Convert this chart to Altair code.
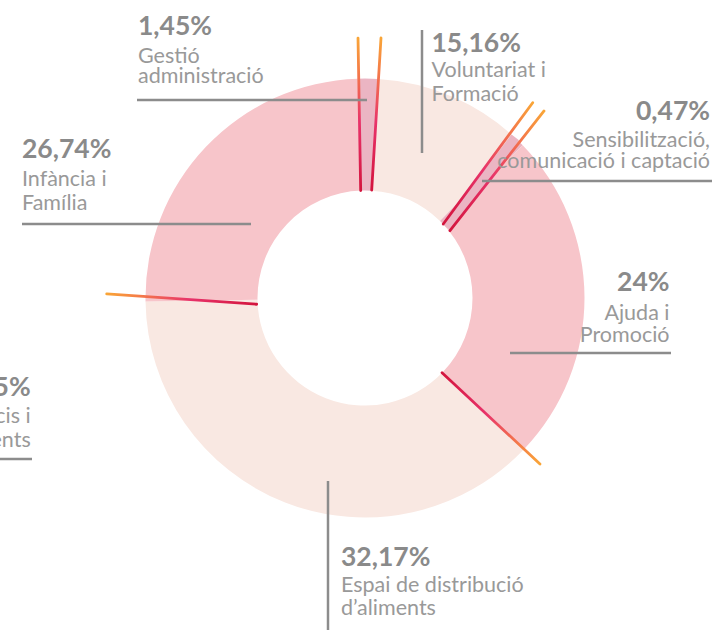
import math
import altair as alt
import pandas as pd

# ---------------- data ----------------
categories = [
    "Gestió administració",
    "Voluntariat i Formació",
    "Sensibilització, comunicació i captació",
    "Ajuda i Promoció",
    "Espai de distribució d’aliments",
    "Infància i Família",
]
printed_pct = ["1,45%", "15,16%", "0,47%", "24%", "32,17%", "26,74%"]
# arc sizes as they appear in the picture (percent of the ring)
arc_share = [1.51, 11.32, 0.47, 24.35, 37.64, 24.71]
label_line1 = ["Gestió", "Voluntariat i", "Sensibilització,", "Ajuda i", "Espai de distribució", "Infància i"]
label_line2 = ["administració", "Formació", "comunicació i captació", "Promoció", "d’aliments", "Família"]
# label that sits mostly outside the visible area (left edge)
extra_pct = "0,05%"
extra_line1 = "Edificis i"
extra_line2 = "Subministraments"

# ---------------- layout / style ----------------
W, H = 719, 630
CX, CY = 365, 298
R_OUT, R_IN = 219.5, 107.5
START_DEG = -1.95

LIGHT, PINK, HIGH = "#f9e8e2", "#f7c5ca", "#ebb5c3"
slice_colors = [HIGH, LIGHT, HIGH, PINK, LIGHT, PINK]
PCT_COLOR, LAB_COLOR, LEADER_COLOR = "#8a8a8a", "#999999", "#8c8c8c"
PCT_SIZE, LAB_SIZE = 26.5, 21.5


def polar(a_deg, r):
    a = math.radians(a_deg)
    return CX + r * math.sin(a), CY - r * math.cos(a)


# edge lines (angle/radius at inner end, angle/radius at outer end)
edge_lines = {
    "top": [(-2.3, 107.5, -1.54, 260.0), (3.55, 108.0, 3.52, 260.5)],
    "ur": [(46.6, 107.7, 40.65, 257.4), (51.6, 108.4, 43.75, 258.9)],
    "lr": [(134.1, 107.3, 133.5, 241.2)],
    "left": [(266.7, 108.5, 270.9, 258.3)],
}
grad_dirs = {
    "top": dict(x1=0, y1=1, x2=0, y2=0),
    "ur": dict(x1=0, y1=1, x2=1, y2=0),
    "lr": dict(x1=0, y1=0, x2=1, y2=1),
    "left": dict(x1=1, y1=0, x2=0, y2=0),
}
band = (49.2, 108.0, 43.1, 219.9)

# label anchors: (x, align, baseline pct, baseline line1, baseline line2)
label_pos = [
    (138, "left", 34.5, 62.7, 82.7),
    (431.5, "left", 51.7, 77.3, 101.0),
    (710, "right", 120.0, 147.3, 168.3),
    (669.5, "right", 290.7, 320.0, 341.7),
    (341, "left", 566.0, 592.0, 615.0),
    (22, "left", 158.3, 185.7, 210.0),
]
extra_pos = (30.7, "right", 396.0, 423.3, 447.3)
leaders = [
    (137, 100, 367, 100),
    (422, 30, 422, 153),
    (482, 181, 712, 181),
    (510, 353, 671, 353),
    (328, 481, 328, 632),
    (22, 224, 251, 224),
    (-10, 459, 32, 459),
]

xs = alt.Scale(domain=[0, W], range=[0, W], nice=False, zero=False)
ys = alt.Scale(domain=[0, H], range=[0, H], nice=False, zero=False)

# ---------------- arcs ----------------
slices = pd.DataFrame({"cat": categories, "share": arc_share, "idx": list(range(len(categories)))})
a0 = 2 * math.pi + math.radians(START_DEG)
arcs = alt.Chart(slices).mark_arc(radius=R_OUT, radius2=R_IN, strokeWidth=0).encode(
    theta=alt.Theta("share:Q", stack=True, scale=alt.Scale(range=[a0, a0 + 2 * math.pi])),
    order=alt.Order("idx:Q"),
    color=alt.Color("cat:N", scale=alt.Scale(domain=categories, range=slice_colors), legend=None),
    x=alt.value(CX),
    y=alt.value(CY),
)


def seg_df(rows):
    out = []
    for a1, r1, a2, r2 in rows:
        x1, y1 = polar(a1, r1)
        x2, y2 = polar(a2, r2)
        out.append({"x": x1, "y": y1, "x2": x2, "y2": y2})
    return pd.DataFrame(out)


def rule_enc(ch):
    return ch.encode(
        x=alt.X("x:Q", scale=xs, axis=None),
        y=alt.Y("y:Q", scale=ys, axis=None),
        x2="x2:Q",
        y2="y2:Q",
    )


band_layer = rule_enc(alt.Chart(seg_df([band])).mark_rule(stroke=HIGH, strokeWidth=9.5, strokeCap="butt"))

stops = [
    alt.GradientStop(offset=0, color="#d3143d"),
    alt.GradientStop(offset=0.45, color="#e8336a"),
    alt.GradientStop(offset=0.8, color="#f57f47"),
    alt.GradientStop(offset=1, color="#f9a537"),
]
edge_layers = []
for key, rows in edge_lines.items():
    g = alt.Gradient(gradient="linear", stops=stops, **grad_dirs[key])
    edge_layers.append(rule_enc(alt.Chart(seg_df(rows)).mark_rule(stroke=g, strokeWidth=2.8, strokeCap="round")))

leader_df = pd.DataFrame(leaders, columns=["x", "y", "x2", "y2"])
leader_layer = rule_enc(alt.Chart(leader_df).mark_rule(stroke=LEADER_COLOR, strokeWidth=2.5))

# ---------------- texts ----------------
rows = []
all_pct = printed_pct + [extra_pct]
all_l1 = label_line1 + [extra_line1]
all_l2 = label_line2 + [extra_line2]
for i, (x, al, b0, b1, b2) in enumerate(label_pos + [extra_pos]):
    rows.append({"x": x, "y": b0, "t": all_pct[i], "kind": "pct", "al": al})
    rows.append({"x": x, "y": b1, "t": all_l1[i], "kind": "lab", "al": al})
    rows.append({"x": x, "y": b2, "t": all_l2[i], "kind": "lab", "al": al})
text_df = pd.DataFrame(rows)

text_layers = []
for kind in ["pct", "lab"]:
    for al in ["left", "right"]:
        if kind == "pct":
            mk = dict(font="Lato", fontSize=PCT_SIZE, fontWeight="bold", color=PCT_COLOR)
        else:
            mk = dict(font="Lato", fontSize=LAB_SIZE, fontWeight="normal", color=LAB_COLOR)
        text_layers.append(
            alt.Chart(text_df)
            .transform_filter((alt.datum.kind == kind) & (alt.datum.al == al))
            .mark_text(align=al, baseline="alphabetic", **mk)
            .encode(
                x=alt.X("x:Q", scale=xs, axis=None),
                y=alt.Y("y:Q", scale=ys, axis=None),
                text="t:N",
            )
        )

chart = (
    alt.layer(arcs, band_layer, *edge_layers, leader_layer, *text_layers)
    .properties(width=W, height=H, padding=0, autosize=alt.AutoSizeParams(type="none"), background="white")
    .configure_view(stroke=None)
)

chart.save("out.html", embed_options={"renderer": "svg", "actions": False})
